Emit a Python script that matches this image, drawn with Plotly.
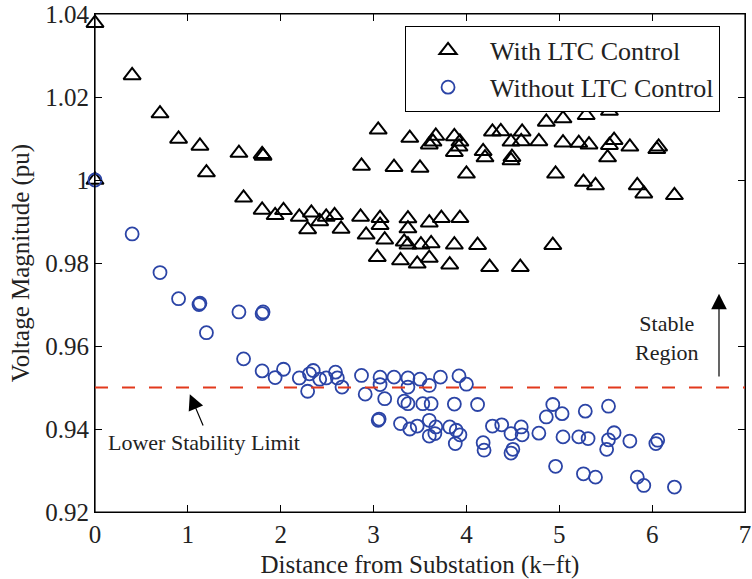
import plotly.graph_objects as go

# With LTC control (triangles)
ltc_distance = [0.00, 0.00, 0.40, 0.70, 0.90, 1.13, 1.20, 1.55, 1.80, 1.81, 1.60, 1.80, 1.94, 2.03,
                2.20, 2.29, 2.33, 2.42, 2.49, 2.58, 2.65, 2.86, 2.92, 3.07, 3.07, 3.12, 3.04, 3.37,
                3.37, 3.33, 3.37, 3.29, 3.47, 3.51, 3.60, 3.62, 3.60, 3.73, 3.82, 3.87, 3.93, 4.12,
                4.25, 4.58, 4.93, 2.87, 3.05, 3.22, 3.39, 3.50, 3.60, 3.64, 3.67, 3.87, 3.92, 3.93,
                3.87, 4.00, 4.18, 4.20, 4.28, 4.37, 4.48, 4.49, 4.48, 4.60, 4.59, 4.78, 4.86, 5.04,
                5.04, 5.21, 5.29, 5.32, 5.54, 5.54, 5.59, 5.52, 5.76, 6.05, 6.07, 4.96, 5.26, 5.39,
                5.84, 5.91, 6.24]
ltc_voltage = [1.0378, 1.0000, 1.0252, 1.0160, 1.0099, 1.0082, 1.0018, 1.0065, 1.0062, 1.0058,
               0.9957, 0.9928, 0.9915, 0.9927, 0.9911, 0.9881, 0.9921, 0.9900, 0.9911, 0.9915,
               0.9882, 0.9911, 0.9868, 0.9908, 0.9891, 0.9856, 0.9814, 0.9907, 0.9883, 0.9851,
               0.9844, 0.9806, 0.9798, 0.9844, 0.9897, 0.9847, 0.9812, 0.9908, 0.9796, 0.9844,
               0.9908, 0.9843, 0.9790, 0.9790, 0.9843, 1.0034, 1.0121, 1.0031, 1.0101, 1.0029,
               1.0085, 1.0092, 1.0106, 1.0105, 1.0080, 1.0092, 1.0067, 1.0015, 1.0069, 1.0054,
               1.0116, 1.0117, 1.0092, 1.0055, 1.0047, 1.0116, 1.0093, 1.0093, 1.0140, 1.0148,
               1.0090, 1.0089, 1.0156, 1.0085, 1.0166, 1.0084, 1.0096, 1.0054, 1.0080, 1.0074,
               1.0080, 1.0015, 0.9995, 0.9987, 0.9987, 0.9967, 0.9963]

# Without LTC control (circles)
noltc_distance = [0.00, 0.40, 0.70, 0.90, 1.12, 1.13, 1.20, 1.55, 1.80, 1.81, 1.60, 1.80, 1.94, 2.03,
                  2.20, 2.29, 2.31, 2.35, 2.42, 2.49, 2.59, 2.61, 2.66, 2.87, 2.91, 3.07, 3.07, 3.12,
                  3.22, 3.37, 3.37, 3.33, 3.37, 3.50, 3.60, 3.53, 3.62, 3.72, 3.92, 4.00, 3.87, 4.12,
                  3.05, 3.06, 3.29, 3.39, 3.47, 3.60, 3.67, 3.60, 3.66, 3.82, 3.89, 3.93, 3.88, 4.18,
                  4.19, 4.28, 4.38, 4.48, 4.50, 4.48, 4.59, 4.60, 4.78, 4.86, 4.93, 5.03, 5.04, 5.21,
                  5.28, 5.31, 5.53, 5.59, 5.53, 5.51, 5.76, 6.06, 6.04, 4.96, 5.26, 5.39, 5.84, 5.91,
                  6.24]
noltc_voltage = [1.0000, 0.9870, 0.9777, 0.9714, 0.9700, 0.9703, 0.9632, 0.9682, 0.9678, 0.9682,
                 0.9569, 0.9540, 0.9524, 0.9544, 0.9523, 0.9491, 0.9533, 0.9541, 0.9520, 0.9523,
                 0.9537, 0.9523, 0.9501, 0.9529, 0.9484, 0.9525, 0.9507, 0.9473, 0.9525, 0.9523,
                 0.9501, 0.9467, 0.9461, 0.9520, 0.9505, 0.9461, 0.9461, 0.9525, 0.9528, 0.9508,
                 0.9460, 0.9459, 0.9421, 0.9424, 0.9413, 0.9400, 0.9407, 0.9421, 0.9405, 0.9383,
                 0.9389, 0.9405, 0.9397, 0.9386, 0.9365, 0.9367, 0.9349, 0.9407, 0.9410, 0.9389,
                 0.9351, 0.9342, 0.9405, 0.9386, 0.9390, 0.9429, 0.9459, 0.9437, 0.9381, 0.9381,
                 0.9443, 0.9377, 0.9455, 0.9391, 0.9374, 0.9351, 0.9371, 0.9373, 0.9365, 0.9310,
                 0.9292, 0.9284, 0.9284, 0.9264, 0.9260]

LOWER_LIMIT = 0.95
x_ticks = [0, 1, 2, 3, 4, 5, 6, 7]
y_ticks = [0.92, 0.94, 0.96, 0.98, 1.00, 1.02, 1.04]
y_tick_labels = ["0.92", "0.94", "0.96", "0.98", "1", "1.02", "1.04"]

FONT = "Liberation Serif"
BLUE = "#2b44a6"
RED = "#e2391c"
TEXT = "#222"

fig = go.Figure()
fig.add_trace(go.Scatter(
    x=ltc_distance, y=ltc_voltage, mode="markers", name="With LTC Control",
    marker=dict(symbol="triangle-up-open", size=15, color="black", line=dict(width=2, color="black")),
    cliponaxis=False,
))
fig.add_trace(go.Scatter(
    x=noltc_distance, y=noltc_voltage, mode="markers", name="Without LTC Control",
    marker=dict(symbol="circle-open", size=13, color=BLUE, line=dict(width=1.8, color=BLUE)),
    cliponaxis=False,
))

# plot frame
fig.add_shape(type="rect", xref="paper", yref="paper", x0=0, x1=1, y0=0, y1=1,
              line=dict(color="black", width=1.2), fillcolor="rgba(0,0,0,0)", layer="above")

fig.add_shape(type="line", xref="x", yref="y", x0=0, x1=7, y0=LOWER_LIMIT, y1=LOWER_LIMIT,
              line=dict(color=RED, width=2, dash="13px,14px"))

fig.add_annotation(x=6.72, y=0.9726, ax=6.72, ay=0.9523, xref="x", yref="y", axref="x", ayref="y",
                   text="", showarrow=True, arrowhead=2, arrowsize=2.6, arrowwidth=1.2, arrowcolor="black",
                   standoff=0, startstandoff=0)
fig.add_annotation(x=6.155, y=0.9619, xref="x", yref="y", text="Stable<br>Region", showarrow=False,
                   font=dict(family=FONT, size=22, color=TEXT), align="center")
fig.add_annotation(x=1.021, y=0.9484, ax=1.171, ay=0.9405, xref="x", yref="y", axref="x", ayref="y",
                   text="", showarrow=True, arrowhead=2, arrowsize=2.6, arrowwidth=1.2, arrowcolor="black",
                   standoff=0, startstandoff=0)
fig.add_annotation(x=1.17, y=0.9368, xref="x", yref="y", text="Lower Stability Limit", showarrow=False,
                   font=dict(family=FONT, size=22, color=TEXT))

axis_common = dict(showline=True, linecolor="black", linewidth=1, mirror="ticks", ticks="inside",
                   ticklen=7, tickcolor="black", tickwidth=1, showgrid=False, zeroline=False,
                   automargin=False, ticklabeloverflow="allow",
                   tickfont=dict(family=FONT, size=25, color=TEXT))
fig.update_xaxes(range=[0, 7], tickvals=x_ticks, title=dict(text="Distance from Substation (k\u2212ft)",
                 font=dict(family=FONT, size=25, color=TEXT), standoff=14), **axis_common)
fig.update_yaxes(range=[0.92, 1.04], tickvals=y_ticks, ticktext=y_tick_labels,
                 title=dict(text="Voltage Magnitude (pu)", font=dict(family=FONT, size=25, color=TEXT),
                            standoff=8), **axis_common)

fig.update_layout(
    width=752, height=579, autosize=False,
    margin=dict(l=95, r=7, t=14, b=67),
    plot_bgcolor="white", paper_bgcolor="white",
    font=dict(family=FONT, color=TEXT),
    legend=dict(x=0.477, y=0.976, xanchor="left", yanchor="top", bordercolor="black", borderwidth=1,
                bgcolor="white", font=dict(family=FONT, size=26, color=TEXT), itemwidth=74,
                tracegroupgap=0),
    showlegend=True,
)

# remove the default 8px page margin so the figure fills the window exactly
fig.write_html("out.html", config={"displayModeBar": False},
               post_script="document.body.style.margin='0px';")
